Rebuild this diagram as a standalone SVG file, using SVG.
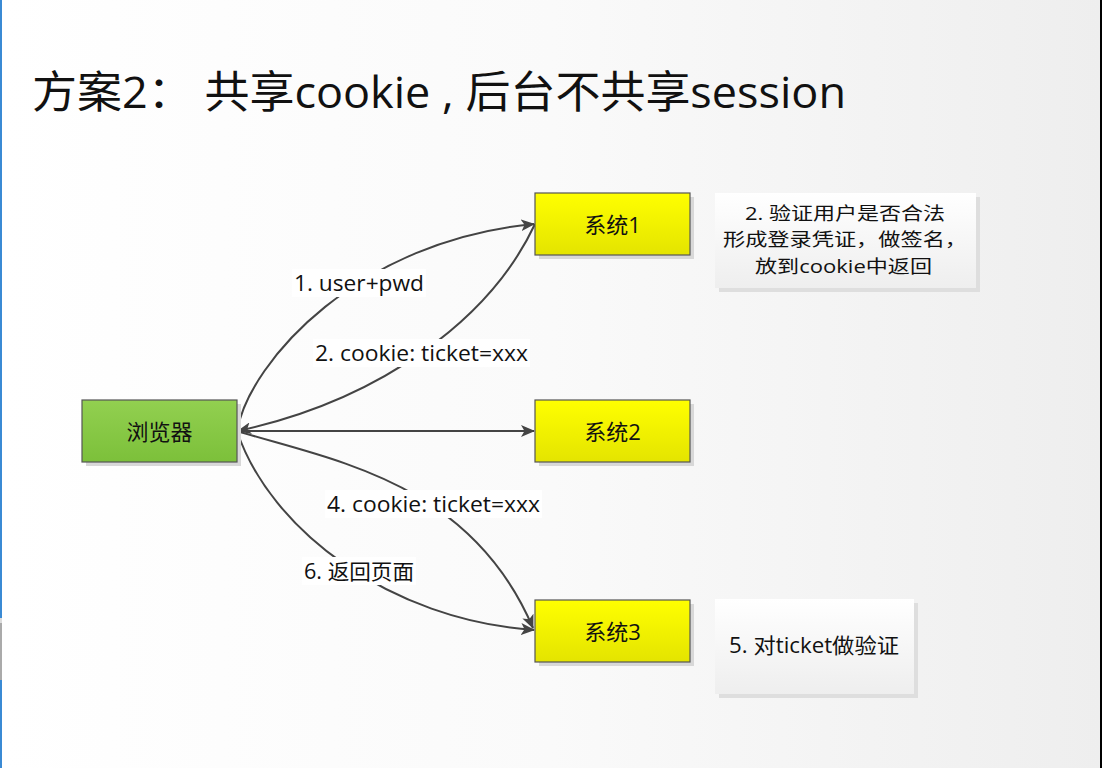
<svg xmlns="http://www.w3.org/2000/svg" width="1102" height="768" viewBox="0 0 1102 768">
<style>
.t{font-family:"Open Sans","Noto Sans","Noto Sans CJK SC",sans-serif;fill:#111}
.lbl{font-size:21px;dominant-baseline:central}
.nl{font-size:18px;dominant-baseline:central}
.nt{font-size:22px;text-anchor:middle;dominant-baseline:central}
.conn{fill:none;stroke:#444;stroke-width:2}
.node{stroke:#555;stroke-width:1.2}
</style>
<defs>
<linearGradient id="bg" x1="0" y1="0" x2="1" y2="0">
<stop offset="0" stop-color="#ffffff"/><stop offset="0.5" stop-color="#fafafa"/><stop offset="1" stop-color="#eeeeee"/>
</linearGradient>
<linearGradient id="yel" x1="0" y1="0" x2="0" y2="1">
<stop offset="0" stop-color="#ffff00"/><stop offset="1" stop-color="#e4e400"/>
</linearGradient>
<linearGradient id="grn" x1="0" y1="0" x2="0" y2="1">
<stop offset="0" stop-color="#92d050"/><stop offset="1" stop-color="#7cc03a"/>
</linearGradient>
<linearGradient id="note" x1="0" y1="0" x2="0" y2="1">
<stop offset="0" stop-color="#ffffff"/><stop offset="1" stop-color="#eeeeee"/>
</linearGradient>
<marker id="arr" viewBox="0 0 14 12" refX="13" refY="6" markerWidth="14" markerHeight="12" markerUnits="userSpaceOnUse" orient="auto">
<path d="M0,0 L14,6 L0,12 L3.5,6 Z" fill="#444"/>
</marker>
</defs>
<rect width="1102" height="768" fill="url(#bg)"/>
<rect x="0" y="0" width="2" height="768" fill="#3a8ad4"/>
<rect x="0" y="618" width="2" height="5" fill="#dddddd"/>
<rect x="0" y="623" width="2" height="57" fill="#aaaaaa"/>
<rect x="1100" y="0" width="2" height="768" fill="#000"/>

<g id="title">
<text class="t" x="32" y="108" font-size="44" textLength="814" lengthAdjust="spacingAndGlyphs">方案2： 共享cookie , 后台不共享session</text>
</g>

<g id="connectors">
<path class="conn" d="M237,431 C250,360 360,240 534,224" marker-end="url(#arr)"/>
<path class="conn" d="M535,224 C490,320 380,400 238,431" marker-end="url(#arr)"/>
<path class="conn" d="M237,431 L534,431" marker-end="url(#arr)"/>
<path class="conn" d="M237,431 C330,460 470,480 533,628" marker-end="url(#arr)"/>
<path class="conn" d="M237,431 C270,530 390,620 534,630" marker-end="url(#arr)"/>
<rect x="292" y="269" width="134" height="28" fill="#fff"/>
<text class="t lbl" x="294" y="283" textLength="130" lengthAdjust="spacingAndGlyphs">1. user+pwd</text>
<rect x="313" y="339" width="217" height="28" fill="#fff"/>
<text class="t lbl" x="315" y="353" textLength="213" lengthAdjust="spacingAndGlyphs">2. cookie: ticket=xxx</text>
<rect x="325" y="490" width="217" height="28" fill="#fff"/>
<text class="t lbl" x="327" y="504" textLength="213" lengthAdjust="spacingAndGlyphs">4. cookie: ticket=xxx</text>
<rect x="302" y="557" width="114" height="28" fill="#fff"/>
<text class="t lbl" x="304" y="571" textLength="110" lengthAdjust="spacingAndGlyphs">6. 返回页面</text>
</g>

<g id="browser">
<rect x="86" y="404" width="155" height="62" fill="#d8d8d8"/>
<rect class="node" x="82" y="400" width="155" height="62" fill="url(#grn)"/>
<text class="t nt" x="159.5" y="431">浏览器</text>
</g>
<g id="sys1">
<rect x="539" y="197" width="155" height="62" fill="#d8d8d8"/>
<rect class="node" x="535" y="193" width="155" height="62" fill="url(#yel)"/>
<text class="t nt" x="612.5" y="224">系统1</text>
</g>
<g id="sys2">
<rect x="539" y="404" width="155" height="62" fill="#d8d8d8"/>
<rect class="node" x="535" y="400" width="155" height="62" fill="url(#yel)"/>
<text class="t nt" x="612.5" y="431">系统2</text>
</g>
<g id="sys3">
<rect x="539" y="604" width="155" height="62" fill="#d8d8d8"/>
<rect class="node" x="535" y="600" width="155" height="62" fill="url(#yel)"/>
<text class="t nt" x="612.5" y="631">系统3</text>
</g>
<g id="note1">
<rect x="719" y="197" width="261" height="95" fill="#dedede"/>
<rect x="715" y="193" width="261" height="95" fill="url(#note)"/>
<text class="t nl" x="745" y="212.5" textLength="200" lengthAdjust="spacingAndGlyphs">2. 验证用户是否合法</text>
<text class="t nl" x="723" y="239" textLength="244" lengthAdjust="spacingAndGlyphs">形成登录凭证，做签名，</text>
<text class="t nl" x="755" y="266" textLength="177" lengthAdjust="spacingAndGlyphs">放到cookie中返回</text>
</g>
<g id="note2">
<rect x="719" y="603" width="199" height="95" fill="#dedede"/>
<rect x="715" y="599" width="199" height="95" fill="url(#note)"/>
<text class="t lbl" x="729" y="645" textLength="170" lengthAdjust="spacingAndGlyphs">5. 对ticket做验证</text>
</g>
</svg>
